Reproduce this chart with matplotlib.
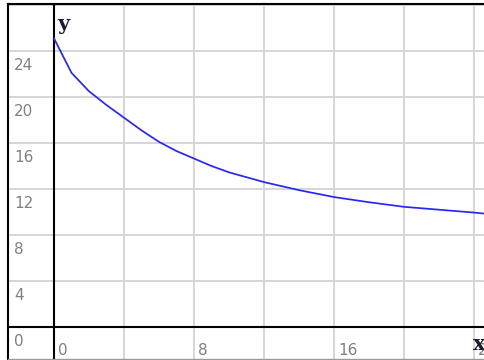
import matplotlib
matplotlib.use("Agg")
import matplotlib.pyplot as plt
import numpy as np

# curve
xs = [0, 1, 2, 3, 4, 5, 6, 7, 8, 9, 10, 12, 14, 16, 18, 20, 22, 24, 25]
ys = [25.1, 22.1, 20.5, 19.3, 18.2, 17.1, 16.1, 15.3, 14.65, 14.0, 13.45,
      12.6, 11.9, 11.3, 10.85, 10.45, 10.2, 9.95, 9.8]

xticks = [0, 8, 16, 24]
yticks = [0, 4, 8, 12, 16, 20, 24]
grid_step = 4

W, H = 484, 360
fig = plt.figure(figsize=(W / 100, H / 100), dpi=100)

# axes frame: left edge at px 8, top at px 4, runs off the right side
left_px, top_px, right_px, bot_px = 8, 4, 490, 359
ax = fig.add_axes([left_px / W, (H - bot_px) / H,
                   (right_px - left_px) / W, (bot_px - top_px) / H])

ax.set_xticks(np.arange(-grid_step, 28, grid_step))
ax.set_yticks(np.arange(-grid_step, 32, grid_step))

# scale: origin at px (54, 327), 17.5 px per x unit, 11.5 px per y unit
ox, oy, sx, sy = 54, 327, 17.5, 11.5
ax.set_xlim((left_px - ox) / sx, (right_px - ox) / sx)
ax.set_ylim((oy - bot_px) / sy, (oy - top_px) / sy)

ax.grid(True, color="#d6d6d6", lw=1.4)
ax.set_axisbelow(True)
ax.tick_params(length=0, labelbottom=False, labelleft=False)

for side in ["left", "top"]:
    ax.spines[side].set_color("black")
    ax.spines[side].set_linewidth(1.5)
ax.spines["right"].set_visible(False)
ax.spines["bottom"].set_color("#9a9a9a")
ax.spines["bottom"].set_linewidth(1.0)

ax.axhline(0, color="black", lw=1.5, zorder=2)
ax.axvline(0, color="black", lw=1.5, zorder=2)

ax.plot(xs, ys, color="#2626ff", lw=1.25, zorder=3)

lab = dict(textcoords="offset pixels", ha="left", va="baseline",
           fontsize=11, color="#808080", family="DejaVu Sans")
x0 = ax.get_xlim()[0]
for v in yticks:
    ax.annotate(str(v), xy=(x0, v), xytext=(6, -19), **lab)
for v in xticks:
    ax.annotate(str(v), xy=(v, 0), xytext=(4, -28), **lab)

name = dict(textcoords="offset pixels", ha="left", va="baseline",
            fontsize=15, fontweight="bold", family="DejaVu Serif",
            color="#1c1c30", zorder=5)
ax.annotate("y", xy=(0, ax.get_ylim()[1]), xytext=(3, -26), **name)
ax.annotate("x", xy=(24, 0), xytext=(-1, -23), **name)

fig.savefig("out.png", dpi=100)
